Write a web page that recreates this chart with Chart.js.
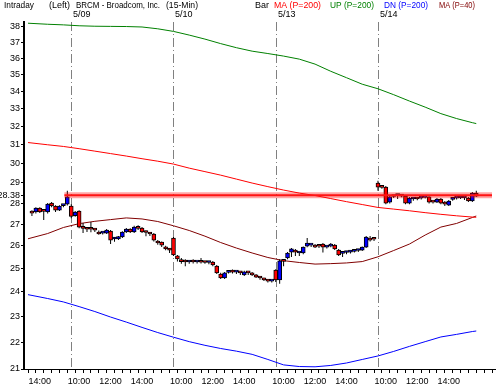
<!DOCTYPE html>
<html lang="en">
<head>
<meta charset="UTF-8">
<title>BRCM Intraday</title>
<script src="https://cdn.jsdelivr.net/npm/chart.js@4.4.1/dist/chart.umd.min.js"></script>
<style>
  html, body { margin: 0; padding: 0; background: #fff; }
</style>
</head>
<body>
<canvas id="myChart" width="496" height="390"></canvas>
<script>
// sessions (15-min bars)
const sessionDates = ['5/08', '5/09', '5/10', '5/13', '5/14'];
const sessionStarts = ['13:30', '9:30', '9:30', '9:30', '9:30'];
const sessionBars = [10, 26, 26, 26, 26];
const timeTickLabels = ['10:00', '12:00', '14:00'];

// OHLC per bar
const open = [27.55, 27.57, 27.76, 27.62, 27.57, 28.00, 27.86, 27.66, 27.88, 27.95,
  27.86, 27.40, 27.62, 26.82, 26.78, 26.77, 26.74, 26.63, 26.58, 26.58,
  26.67, 26.31, 26.31, 26.40, 26.63, 26.77, 26.63, 26.82, 26.81, 26.63,
  26.58, 26.54, 26.22, 26.17, 25.96, 25.84,
  26.35, 25.55, 25.37, 25.29, 25.28, 25.29, 25.28, 25.28, 25.27, 25.26,
  25.28, 25.10, 24.76, 24.59, 24.83, 24.85, 24.84, 24.82, 24.72, 24.82,
  24.81, 24.72, 24.60, 24.54, 24.48, 24.46,
  24.93, 24.51, 25.33, 25.46, 25.72, 25.81, 25.68, 25.68, 25.99, 26.03,
  26.03, 25.99, 26.08, 25.94, 25.99, 26.03, 25.81, 25.66, 25.70, 25.72,
  25.75, 25.79, 25.81, 25.94, 26.35, 26.31,
  28.99, 28.79, 28.79, 28.05, 28.32, 28.37, 28.35, 28.34, 28.00, 28.20,
  28.21, 28.24, 28.28, 28.30, 28.06, 28.05, 28.20, 28.05, 27.90, 28.18,
  28.24, 28.25, 28.25, 28.25, 28.10, 28.49];
const high = [27.66, 27.80, 27.80, 27.70, 28.00, 28.05, 27.90, 27.90, 27.95, 28.60,
  27.95, 27.62, 27.66, 27.05, 26.86, 27.10, 26.81, 26.70, 26.65, 26.77,
  26.72, 26.40, 26.45, 26.67, 26.82, 26.81, 26.92, 26.95, 26.86, 26.70,
  26.63, 26.58, 26.26, 26.20, 26.00, 25.90,
  26.40, 25.59, 25.46, 25.40, 25.35, 25.40, 25.33, 25.46, 25.33, 25.33,
  25.33, 25.15, 24.81, 24.85, 24.90, 24.95, 24.90, 24.88, 24.90, 24.88,
  24.85, 24.76, 24.66, 24.60, 24.55, 24.52,
  24.97, 25.40, 25.40, 25.72, 25.90, 25.86, 25.75, 25.97, 26.35, 26.10,
  26.08, 26.05, 26.13, 26.00, 26.13, 26.08, 25.86, 25.72, 25.77, 25.80,
  25.84, 25.86, 25.97, 26.45, 26.45, 26.38,
  29.10, 28.84, 28.84, 28.35, 28.40, 28.45, 28.42, 28.40, 28.30, 28.28,
  28.30, 28.30, 28.35, 28.34, 28.12, 28.25, 28.25, 28.10, 28.15, 28.25,
  28.30, 28.32, 28.30, 28.30, 28.55, 28.60];
const low = [27.38, 27.50, 27.52, 27.19, 27.50, 27.80, 27.57, 27.62, 27.80, 27.88,
  27.27, 27.35, 26.80, 26.58, 26.63, 26.62, 26.63, 26.50, 26.52, 26.54,
  26.08, 26.18, 26.26, 26.35, 26.58, 26.58, 26.58, 26.72, 26.58, 26.44,
  26.45, 26.20, 26.05, 25.95, 25.80, 25.68,
  25.55, 25.30, 25.20, 25.10, 25.20, 25.22, 25.22, 25.22, 25.20, 25.18,
  25.10, 24.76, 24.55, 24.55, 24.78, 24.78, 24.76, 24.72, 24.68, 24.72,
  24.68, 24.59, 24.52, 24.46, 24.40, 24.40,
  24.42, 24.35, 25.10, 25.40, 25.50, 25.55, 25.55, 25.62, 25.94, 25.95,
  25.90, 25.90, 25.70, 25.88, 25.94, 25.81, 25.55, 25.50, 25.62, 25.66,
  25.70, 25.72, 25.77, 25.90, 26.20, 26.22,
  28.60, 28.70, 27.95, 27.98, 28.25, 28.20, 28.28, 27.95, 27.95, 28.12,
  28.14, 28.18, 28.22, 27.98, 27.98, 28.00, 27.95, 27.86, 27.86, 28.12,
  28.18, 28.20, 28.15, 28.05, 28.05, 28.30];
const close = [27.52, 27.76, 27.57, 27.60, 27.95, 27.86, 27.66, 27.86, 27.90, 28.30,
  27.36, 27.57, 26.85, 26.80, 26.76, 26.76, 26.72, 26.54, 26.60, 26.72,
  26.26, 26.33, 26.42, 26.63, 26.77, 26.63, 26.86, 26.80, 26.63, 26.61,
  26.54, 26.26, 26.13, 26.03, 25.86, 25.81,
  25.59, 25.42, 25.30, 25.28, 25.29, 25.28, 25.28, 25.27, 25.26, 25.26,
  25.15, 24.81, 24.59, 24.81, 24.85, 24.84, 24.84, 24.81, 24.85, 24.81,
  24.72, 24.63, 24.59, 24.51, 24.46, 24.47,
  24.51, 25.33, 25.31, 25.68, 25.86, 25.72, 25.69, 25.94, 26.13, 26.04,
  25.94, 25.98, 25.94, 25.95, 26.08, 25.86, 25.59, 25.68, 25.72, 25.73,
  25.77, 25.81, 25.94, 26.40, 26.26, 26.30,
  28.79, 28.77, 28.00, 28.30, 28.34, 28.39, 28.34, 28.00, 28.25, 28.21,
  28.20, 28.25, 28.30, 28.05, 28.05, 28.20, 28.00, 27.95, 28.10, 28.20,
  28.25, 28.26, 28.25, 28.10, 28.49, 28.34];

// indicator lines, read at these bar positions
const lineIdx = [-1, 4, 8, 12, 16, 20, 24, 28, 32, 36, 40, 44, 48, 52, 56, 60, 64, 68, 72, 76,
  80, 84, 88, 92, 96, 100, 104, 108, 112, 113];
const ma200 = [31.10, 30.98, 30.89, 30.77, 30.64, 30.51, 30.38, 30.24, 30.11, 29.96,
  29.75, 29.57, 29.39, 29.19, 28.99, 28.81, 28.64, 28.49, 28.37, 28.22,
  28.07, 27.93, 27.79, 27.71, 27.63, 27.54, 27.46, 27.39, 27.33, 27.32];
const up200 = [38.25, 38.18, 38.14, 38.08, 38.05, 38.04, 38.03, 38.00, 37.88, 37.71,
  37.47, 37.21, 36.92, 36.66, 36.44, 36.29, 36.13, 35.94, 35.63, 35.19,
  34.80, 34.41, 34.14, 33.79, 33.42, 33.07, 32.70, 32.42, 32.19, 32.14];
const dn200 = [23.89, 23.73, 23.59, 23.40, 23.20, 22.98, 22.78, 22.57, 22.37, 22.19,
  22.02, 21.88, 21.76, 21.66, 21.54, 21.35, 21.15, 21.09, 21.08, 21.13,
  21.22, 21.35, 21.48, 21.65, 21.84, 22.02, 22.20, 22.30, 22.41, 22.43];
const ma40 = [26.32, 26.56, 26.84, 27.02, 27.13, 27.21, 27.29, 27.24, 27.12, 26.92,
  26.70, 26.44, 26.15, 25.90, 25.68, 25.48, 25.34, 25.26, 25.19, 25.21,
  25.24, 25.30, 25.51, 25.79, 26.08, 26.49, 26.86, 27.03, 27.31, 27.38];

const lastPrice = 28.38;
const yTicks = [21, 22, 23, 24, 25, 26, 27, 28, 29, 30, 31, 32, 33, 34, 35, 36, 37, 38, lastPrice];

// bar times and session starts
const barTimes = [];
const sessionIdx = [];
sessionDates.forEach((d, s) => {
  sessionIdx.push(barTimes.length);
  let [h, m] = sessionStarts[s].split(':').map(Number);
  for (let k = 0; k < sessionBars[s]; k++) {
    barTimes.push(h + ':' + String(m).padStart(2, '0'));
    m += 15;
    if (m >= 60) { m -= 60; h++; }
  }
});
const bars = open.map((v, i) => i);
const xTicks = [];
for (let i = 0; i <= 116; i += 2) xTicks.push(i);

const FONT = '"Liberation Sans", Arial, sans-serif';

const decor = {
  id: 'decor',
  beforeDatasetsDraw(chart) {
    const { ctx, chartArea, scales } = chart;
    ctx.save();
    ctx.strokeStyle = '#808080';
    ctx.lineWidth = 1;
    ctx.setLineDash([9, 3, 1, 3]);
    sessionIdx.slice(1).forEach(i => {
      const x = Math.round(scales.x.getPixelForValue(i)) + 0.5;
      ctx.beginPath();
      ctx.moveTo(x, chartArea.top);
      ctx.lineTo(x, chartArea.bottom);
      ctx.stroke();
    });
    ctx.restore();
  },
  afterDraw(chart) {
    const { ctx, scales } = chart;
    ctx.save();
    ctx.font = '9px ' + FONT;
    ctx.textBaseline = 'middle';
    // text, left, max width, colour
    const head = [
      ['Intraday', 4, 30, '#000'], ['(Left)', 49, 21, '#000'],
      ['BRCM - Broadcom, Inc.', 76, 84, '#000'], ['(15-Min)', 166, 32, '#000'],
      ['Bar', 255, 14, '#000'], ['MA (P=200)', 274, 47, '#ff0000'],
      ['UP (P=200)', 330, 44, '#008000'], ['DN (P=200)', 384, 44, '#0000ff'],
      ['MA (P=40)', 439, 36, '#800000']
    ];
    head.forEach(([t, x, w, c]) => { ctx.fillStyle = c; ctx.fillText(t, x, 6, w); });
    ctx.fillStyle = '#000';
    sessionIdx.slice(1).forEach((i, k) => {
      const x = Math.round(scales.x.getPixelForValue(i)) + 2;
      ctx.fillText(sessionDates[k + 1], x, 15);
    });
    ctx.restore();
  }
};

const lineSet = (vals, color, order) => ({
  type: 'line',
  data: lineIdx.map((x, k) => ({ x: x, y: vals[k] })),
  borderColor: color, borderWidth: 1, pointRadius: 0, tension: 0, order: order
});

new Chart('myChart', {
  data: {
    datasets: [
      {
        type: 'bar',
        data: bars.map(i => ({ x: i, y: [open[i], close[i]] })),
        backgroundColor: ctx => close[ctx.dataIndex] >= open[ctx.dataIndex] ? '#0000ff' : '#ff0000',
        borderColor: '#000', borderWidth: 1, borderSkipped: false,
        barThickness: 4, minBarLength: 2, grouped: false, order: 1
      },
      {
        type: 'bar',
        data: bars.map(i => ({ x: i, y: [low[i], high[i]] })),
        backgroundColor: '#000', borderWidth: 0, inflateAmount: 0,
        barThickness: 1, grouped: false, order: 2
      },
      {
        type: 'line',
        data: [{ x: 8.25, y: lastPrice }, { x: 117, y: lastPrice }],
        borderColor: 'rgba(255,0,0,0.35)', borderWidth: 6, pointRadius: 0, order: 0
      },
      {
        type: 'line',
        data: [{ x: 8.25, y: lastPrice }, { x: 117, y: lastPrice }],
        borderColor: '#ff2020', borderWidth: 2, pointRadius: 0, order: 0
      },
      lineSet(ma200, '#ff0000', 3),
      lineSet(up200, '#008000', 3),
      lineSet(dn200, '#0000ff', 3),
      lineSet(ma40, '#800000', 3)
    ]
  },
  options: {
    responsive: false,
    animation: false,
    layout: { padding: { top: 22, left: 0, right: 0, bottom: 0 } },
    plugins: { legend: { display: false }, tooltip: { enabled: false } },
    scales: {
      x: {
        type: 'linear', min: -1, max: 117,
        afterFit: s => { s.height = 21; },
        afterBuildTicks: s => { s.ticks = xTicks.map(v => ({ value: v })); },
        grid: { drawOnChartArea: false, tickLength: 4, color: '#000' },
        border: { color: '#000', width: 1 },
        ticks: {
          autoSkip: false, maxRotation: 0, padding: 3, color: '#000',
          font: { family: FONT, size: 9 },
          callback: v => timeTickLabels.includes(barTimes[v]) ? barTimes[v] : ''
        }
      },
      y: {
        type: 'logarithmic', min: 21, max: 38.33, bounds: 'data',
        afterFit: s => { s.width = 24; },
        afterBuildTicks: s => { s.ticks = yTicks.map(v => ({ value: v })); },
        grid: { drawOnChartArea: false, tickLength: 3, color: '#000' },
        border: { color: '#000', width: 2 },
        ticks: {
          autoSkip: false, padding: 1, color: '#000',
          font: { family: FONT, size: 9 },
          callback: v => v === lastPrice ? lastPrice.toFixed(2) : String(v)
        }
      }
    }
  },
  plugins: [decor]
});
</script>
</body>
</html>
